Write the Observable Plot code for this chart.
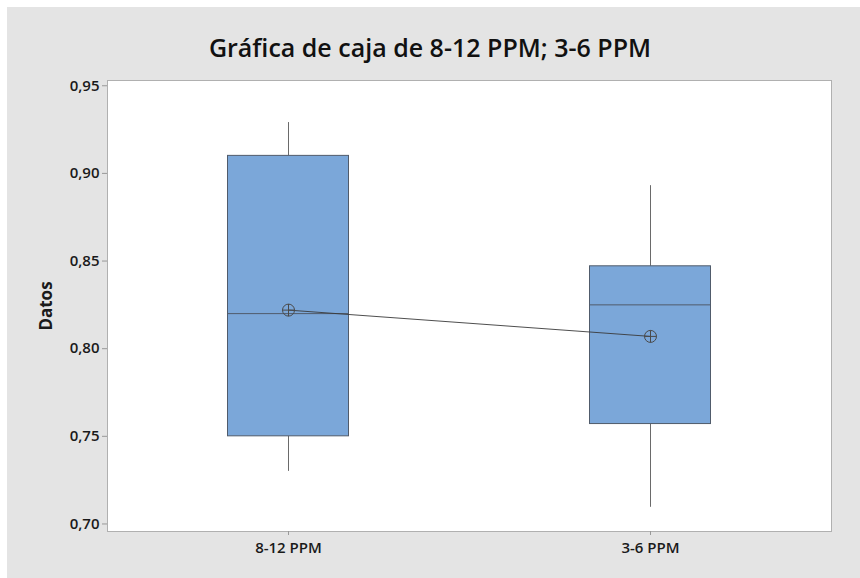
<!DOCTYPE html>
<html>
<head>
<meta charset="utf-8">
<script src="https://cdn.jsdelivr.net/npm/d3@7"></script>
<script src="https://cdn.jsdelivr.net/npm/@observablehq/plot@0.6"></script>
<style>
  html, body { margin: 0; padding: 0; background: #ffffff; }
  #wrap { position: absolute; left: 7px; top: 7px; width: 853px; height: 571px; background: #e4e4e4; overflow: hidden; }
  #title { position: absolute; left: -7px; top: 25px; width: 860px; text-align: center;
           font-family: "Open Sans", sans-serif; font-weight: 600; font-size: 25px; color: #111; line-height: 30px; }
  #ylabel { position: absolute; left: -21px; top: 287px; width: 120px; height: 24px; line-height: 24px; text-align: center;
            transform: rotate(-90deg); transform-origin: 60px 12px;
            font-family: "Open Sans", sans-serif; font-weight: 700; font-size: 17px; color: #1a1a1a; }
  #chart { position: absolute; left: 0; top: 0; }
</style>
</head>
<body>
<div id="wrap">
  <div id="chart"></div>
  <div id="title">Gráfica de caja de 8-12 PPM; 3-6 PPM</div>
  <div id="ylabel"></div>
</div>
<script>
const groups = ["8-12 PPM", "3-6 PPM"];
const whiskerLow = [0.730, 0.7095];
const q1 = [0.750, 0.757];
const median = [0.820, 0.825];
const q3 = [0.910, 0.847];
const whiskerHigh = [0.929, 0.893];
const means = [0.822, 0.807];
const yTicks = [0.70, 0.75, 0.80, 0.85, 0.90, 0.95];
const yLabel = "Datos";

document.getElementById("ylabel").textContent = yLabel;

const stats = groups.map((g, i) => ({
  group: g, lo: whiskerLow[i], q1: q1[i], med: median[i], q3: q3[i], hi: whiskerHigh[i], mean: means[i]
}));

const fmt = d => d.toFixed(2).replace(".", ",");
const boxInset = 120.5;

const chart = Plot.plot({
  width: 853,
  height: 571,
  marginTop: 73,
  marginBottom: 47,
  marginLeft: 100,
  marginRight: 29,
  style: { background: "transparent", fontFamily: "'Open Sans', sans-serif", fontSize: "15px", fontWeight: 600, color: "#1a1a1a" },
  x: { type: "band", domain: groups, padding: 0, label: null },
  y: { domain: [0.6957, 0.953], label: null },
  marks: [
    Plot.frame({ fill: "white", stroke: "#b0b0b0" }),
    Plot.axisY({ ticks: yTicks, tickFormat: fmt, tickSize: 5, tickPadding: 3, stroke: "#999", fontSize: 15, fontWeight: 600 }),
    Plot.axisX({ tickSize: 4, tickPadding: 7, stroke: "#999", fontSize: 15, fontWeight: 600 }),
    Plot.ruleX(stats, { x: "group", y1: "lo", y2: "q1", stroke: "#6a6a6a", strokeWidth: 1 }),
    Plot.ruleX(stats, { x: "group", y1: "q3", y2: "hi", stroke: "#6a6a6a", strokeWidth: 1 }),
    Plot.barY(stats, { x: "group", y1: "q1", y2: "q3", fill: "#7ba7d9", stroke: "#505b6b", strokeWidth: 1, insetLeft: boxInset, insetRight: boxInset }),
    Plot.tickY(stats, { x: "group", y: "med", stroke: "#505b6b", strokeWidth: 1, insetLeft: boxInset, insetRight: boxInset }),
    Plot.lineY(stats, { x: "group", y: "mean", stroke: "#3a3a3a", strokeWidth: 0.9 }),
    Plot.dot(stats, { x: "group", y: "mean", r: 6, stroke: "#4a4a4a", fill: "none", strokeWidth: 1 }),
    Plot.dot(stats, { x: "group", y: "mean", r: 4, symbol: "plus", stroke: "#4a4a4a", strokeWidth: 1 })
  ]
});
document.getElementById("chart").appendChild(chart);
</script>
</body>
</html>
